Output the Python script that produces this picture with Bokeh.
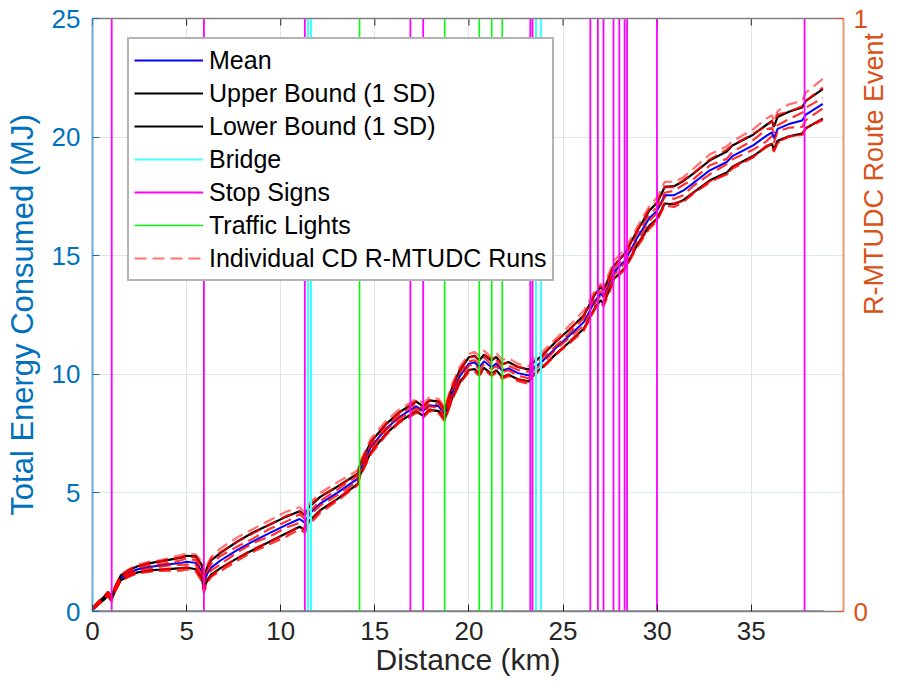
import math
from bokeh.plotting import figure
from bokeh.models import (Range1d, LinearAxis, FixedTicker, Legend, LegendItem)
from bokeh.embed import file_html
from bokeh.resources import INLINE

FONT = "Liberation Sans"
BLUE_AX = "#0072BD"
ORANGE_AX = "#D95319"
DARK = "#262626"

# ---------------- data ----------------
x_ticks = [0, 5, 10, 15, 20, 25, 30, 35]
y_ticks = [0, 5, 10, 15, 20, 25]
ev_ticks = [0, 1]

km = [0, 0.3, 0.6, 0.83, 1.0, 1.2, 1.5, 2.0, 2.4, 3.0,
      3.5, 4.2, 4.7, 5.0, 5.5, 5.8, 5.92, 6.1, 6.3, 6.8,
      7.7, 8.5, 9.4, 10.3, 11.0, 11.28, 11.5, 12.1, 13.0, 14.1,
      14.2, 14.8, 15.6, 16.3, 16.9, 17.2, 17.57, 17.9, 18.4, 18.71,
      19.1, 19.5, 20.0, 20.3, 20.55, 20.8, 21.2, 21.45, 21.77, 22.1,
      22.6, 23.2, 23.35, 23.9, 24.6, 25.3, 26.1, 26.7, 27.0, 27.15,
      27.7, 28.3, 28.9, 29.6, 30.0, 30.4, 30.9, 31.4, 31.9, 32.8,
      33.7, 34.0, 35.1, 35.8, 36.1, 36.2, 36.4, 37.0, 37.7, 37.9,
      38.8]

mean_mj = [0.10, 0.35, 0.55, 0.75, 0.55, 0.95, 1.42, 1.65, 1.78, 1.88,
           1.93, 2.00, 2.05, 2.10, 2.05, 1.70, 1.20, 1.60, 1.85, 2.15,
           2.60, 2.95, 3.30, 3.65, 3.90, 3.75, 4.10, 4.55, 5.00, 5.60,
           5.95, 6.95, 7.70, 8.20, 8.50, 8.65, 8.45, 8.70, 8.65, 8.30,
           9.20, 9.90, 10.45, 10.50, 10.30, 10.55, 10.30, 10.45, 10.15, 10.25,
           10.05, 9.95, 10.20, 10.55, 11.10, 11.60, 12.20, 13.10, 13.40, 13.25,
           14.30, 14.80, 15.70, 16.60, 16.90, 17.55, 17.55, 17.75, 18.05, 18.60,
           18.95, 19.20, 19.65, 20.05, 20.20, 19.95, 20.35, 20.55, 20.70, 20.95,
           21.40]

sd_mj = [0.03, 0.05, 0.06, 0.07, 0.08, 0.08, 0.10, 0.12, 0.13, 0.15,
         0.17, 0.20, 0.22, 0.25, 0.27, 0.28, 0.25, 0.28, 0.30, 0.32,
         0.35, 0.37, 0.36, 0.35, 0.33, 0.30, 0.30, 0.28, 0.26, 0.22,
         0.22, 0.22, 0.20, 0.20, 0.20, 0.20, 0.20, 0.20, 0.20, 0.20,
         0.22, 0.25, 0.27, 0.28, 0.28, 0.28, 0.28, 0.28, 0.27, 0.27,
         0.26, 0.25, 0.25, 0.25, 0.26, 0.27, 0.28, 0.28, 0.28, 0.28,
         0.28, 0.30, 0.30, 0.32, 0.33, 0.35, 0.38, 0.40, 0.40, 0.42,
         0.44, 0.45, 0.45, 0.46, 0.48, 0.48, 0.50, 0.52, 0.55, 0.58,
         0.62]

# individual runs: deviation from the mean, in units of one SD
run1_z = [1.2, 1.3, 1.4, 1.3, 1.4, 1.3, 1.3, 1.4, 1.5, 1.4,
          1.3, 1.4, 1.5, 1.4, 1.3, 1.4, 1.5, 1.4, 1.5, 1.6,
          1.5, 1.4, 1.5, 1.6, 1.5, 1.4, 1.5, 1.6, 1.7, 1.6,
          1.5, 1.6, 1.7, 1.6, 1.5, 1.6, 1.7, 1.6, 1.5, 1.6,
          1.7, 1.6, 1.5, 1.6, 1.7, 1.6, 1.5, 1.6, 1.7, 1.6,
          1.5, 1.6, 1.7, 1.6, 1.5, 1.6, 1.7, 1.6, 1.5, 1.6,
          1.7, 1.6, 1.5, 1.6, 1.7, 1.6, 1.5, 1.4, 1.5, 1.6,
          1.5, 1.4, 1.5, 1.6, 1.5, 1.4, 1.5, 1.6, 1.5, 1.6,
          1.7]
run2_z = [0.9, 1.0, 0.8, 1.1, 1.0, 0.9, 1.1, 1.0, 0.9, 1.2,
          1.0, 0.9, 1.1, 1.0, 0.8, 0.9, 1.1, 1.0, 1.2, 1.1,
          1.0, 0.9, 1.0, 1.1, 0.9, 1.0, 1.2, 1.1, 1.0, 0.9,
          1.1, 1.0, 1.1, 0.9, 1.0, 1.2, 1.0, 0.9, 1.1, 1.0,
          1.1, 1.2, 1.0, 0.9, 1.1, 1.0, 1.2, 1.1, 1.0, 0.9,
          1.0, 1.1, 1.2, 1.0, 1.1, 0.9, 1.0, 1.1, 1.2, 1.0,
          0.9, 1.1, 1.0, 1.2, 1.1, 1.0, 0.9, 1.1, 1.0, 1.1,
          1.2, 1.0, 1.1, 0.9, 1.0, 1.1, 1.2, 1.0, 1.1, 1.0,
          1.1]
run3_z = [0.4, 0.5, 0.3, 0.6, 0.4, 0.5, 0.3, 0.4, 0.6, 0.5,
          0.4, 0.3, 0.5, 0.6, 0.4, 0.5, 0.3, 0.4, 0.5, 0.6,
          0.4, 0.3, 0.5, 0.4, 0.6, 0.5, 0.3, 0.4, 0.5, 0.6,
          0.4, 0.5, 0.3, 0.4, 0.6, 0.5, 0.4, 0.3, 0.5, 0.4,
          0.6, 0.5, 0.4, 0.3, 0.5, 0.6, 0.4, 0.5, 0.3, 0.4,
          0.5, 0.6, 0.4, 0.5, 0.3, 0.4, 0.6, 0.5, 0.4, 0.3,
          0.5, 0.4, 0.6, 0.5, 0.4, 0.3, 0.5, 0.6, 0.4, 0.5,
          0.3, 0.4, 0.5, 0.6, 0.4, 0.5, 0.3, 0.4, 0.6, 0.5,
          0.4]
run4_z = [-0.3, -0.4, -0.2, -0.5, -0.3, -0.4, -0.2, -0.3, -0.5, -0.4,
          -0.3, -0.2, -0.4, -0.5, -0.3, -0.4, -0.2, -0.3, -0.4, -0.5,
          -0.3, -0.2, -0.4, -0.3, -0.5, -0.4, -0.2, -0.3, -0.4, -0.5,
          -0.3, -0.4, -0.2, -0.3, -0.5, -0.4, -0.3, -0.2, -0.4, -0.3,
          -0.5, -0.4, -0.3, -0.2, -0.4, -0.5, -0.3, -0.4, -0.2, -0.3,
          -0.4, -0.5, -0.3, -0.4, -0.2, -0.3, -0.5, -0.4, -0.3, -0.2,
          -0.4, -0.3, -0.5, -0.4, -0.3, -0.2, -0.4, -0.5, -0.3, -0.4,
          -0.2, -0.3, -0.4, -0.5, -0.3, -0.4, -0.2, -0.3, -0.5, -0.4,
          -0.3]
run5_z = [-0.9, -1.0, -0.8, -1.1, -1.0, -0.9, -1.1, -1.0, -0.9, -1.2,
          -1.0, -0.9, -1.1, -1.0, -0.8, -0.9, -1.1, -1.0, -1.2, -1.1,
          -1.0, -0.9, -1.0, -1.1, -0.9, -1.0, -1.2, -1.1, -1.0, -0.9,
          -1.1, -1.0, -1.1, -0.9, -1.0, -1.2, -1.0, -0.9, -1.1, -1.0,
          -1.1, -1.2, -1.0, -0.9, -1.1, -1.0, -1.2, -1.1, -1.0, -0.9,
          -1.0, -1.1, -1.2, -1.0, -1.1, -0.9, -1.0, -1.1, -1.2, -1.0,
          -0.9, -1.1, -1.0, -1.2, -1.1, -1.0, -0.9, -1.1, -1.0, -1.1,
          -1.2, -1.0, -1.1, -0.9, -1.0, -1.1, -1.2, -1.0, -1.1, -1.0,
          -1.1]
run6_z = [-1.2, -1.3, -1.4, -1.3, -1.5, -1.3, -1.2, -1.4, -1.3, -1.4,
          -1.3, -1.4, -1.5, -1.3, -1.4, -1.5, -1.6, -1.4, -1.3, -1.4,
          -1.3, -1.2, -1.3, -1.4, -1.3, -1.4, -1.5, -1.4, -1.3, -1.2,
          -1.3, -1.4, -1.3, -1.2, -1.4, -1.3, -1.4, -1.3, -1.5, -1.4,
          -1.3, -1.2, -1.3, -1.4, -1.3, -1.2, -1.3, -1.4, -1.3, -1.2,
          -1.3, -1.4, -1.3, -1.2, -1.1, -1.2, -1.3, -1.2, -1.3, -1.4,
          -1.3, -1.2, -1.3, -1.4, -1.3, -1.2, -1.3, -1.2, -1.1, -1.2,
          -1.1, -1.2, -1.1, -1.0, -1.1, -1.2, -1.1, -1.0, -1.1, -1.0,
          -1.0]
runs_z = [run1_z, run2_z, run3_z, run4_z, run5_z, run6_z]

# route events (km)
bridge_km = [11.44, 11.61, 23.56, 23.82]
stop_km = [1.02, 5.92, 11.28, 16.89, 17.57, 23.26, 23.38, 26.45, 26.85,
           27.15, 27.68, 27.99, 28.27, 28.40, 29.99, 37.83]
traffic_km = [14.19, 18.71, 20.55, 21.21, 21.77]
route_end_km = 38.85
x_max = 39.9
y_max = 25

# ---------------- figure ----------------
p = figure(width=906, height=684, x_range=Range1d(0, x_max), y_range=Range1d(0, y_max),
           output_backend="svg", toolbar_location=None,
           min_border_left=92, min_border_right=57, min_border_top=18,
           min_border_bottom=73)
p.extra_y_ranges = {"ev": Range1d(0, 1)}
p.outline_line_color = None
p.background_fill_color = "white"
p.border_fill_color = "white"

xa = p.xaxis[0]
xa.ticker = FixedTicker(ticks=x_ticks)
xa.axis_line_color = "#808080"
xa.axis_line_width = 1.5
xa.major_tick_in = 7
xa.major_tick_out = 0
xa.major_tick_line_color = DARK
xa.minor_tick_line_color = None
xa.major_label_text_font = FONT
xa.major_label_text_font_size = "26px"
xa.major_label_text_color = DARK
xa.major_label_standoff = 10
xa.axis_label = "Distance (km)"
xa.axis_label_text_font = FONT
xa.axis_label_text_font_size = "30px"
xa.axis_label_text_font_style = "normal"
xa.axis_label_text_color = DARK
xa.axis_label_standoff = 0

ya = p.yaxis[0]
ya.ticker = FixedTicker(ticks=y_ticks)
ya.axis_line_color = BLUE_AX
ya.axis_line_alpha = 0.6
ya.axis_line_width = 2
ya.major_tick_in = 7
ya.major_tick_out = 0
ya.major_tick_line_color = BLUE_AX
ya.minor_tick_line_color = None
ya.major_label_text_font = FONT
ya.major_label_text_font_size = "26px"
ya.major_label_text_color = BLUE_AX
ya.major_label_standoff = 12
ya.axis_label = "Total Energy Consumed (MJ)"
ya.axis_label_text_font = FONT
ya.axis_label_text_font_size = "31px"
ya.axis_label_text_font_style = "normal"
ya.axis_label_text_color = BLUE_AX
ya.axis_label_standoff = 9

ra = LinearAxis(y_range_name="ev", ticker=FixedTicker(ticks=ev_ticks))
ra.axis_line_color = ORANGE_AX
ra.axis_line_alpha = 0.6
ra.axis_line_width = 2
ra.major_tick_in = 7
ra.major_tick_out = 0
ra.major_tick_line_color = ORANGE_AX
ra.minor_tick_line_color = None
ra.major_label_text_font = FONT
ra.major_label_text_font_size = "26px"
ra.major_label_text_color = ORANGE_AX
ra.major_label_standoff = 10
ra.axis_label = "R-MTUDC Route Event"
ra.axis_label_text_font = FONT
ra.axis_label_text_font_size = "27px"
ra.axis_label_text_font_style = "normal"
ra.axis_label_text_color = ORANGE_AX
ra.axis_label_standoff = 3
if "axis_label_orientation" in LinearAxis.properties():
    ra.axis_label_orientation = math.pi / 2
p.add_layout(ra, "right")

# top box edge (no labels)
ta = LinearAxis(ticker=FixedTicker(ticks=[]))
ta.axis_line_color = "#808080"
ta.axis_line_width = 1.5
ta.major_tick_line_color = None
ta.minor_tick_line_color = None
p.add_layout(ta, "above")

p.xgrid.ticker = FixedTicker(ticks=x_ticks)
p.xgrid.grid_line_color = "#e3e3e3"
p.xgrid.grid_line_width = 1
p.ygrid.ticker = FixedTicker(ticks=y_ticks)
p.ygrid.grid_line_color = "#dde8f2"
p.ygrid.grid_line_width = 1

# inward tick marks on the top edge
p.segment(x0=x_ticks, y0=[y_max] * len(x_ticks), x1=x_ticks,
          y1=[y_max - 0.3] * len(x_ticks), line_color=DARK, line_width=1)

upper_mj = [m + s for m, s in zip(mean_mj, sd_mj)]
lower_mj = [m - s for m, s in zip(mean_mj, sd_mj)]

r_mean = p.line(km, mean_mj, line_color="#0000FF", line_width=2)
r_up = p.line(km, upper_mj, line_color="#000000", line_width=2.2)
r_lo = p.line(km, lower_mj, line_color="#000000", line_width=2.2)

run_renderers = []
for i, z in enumerate(runs_z):
    vals = [m + zz * s for m, zz, s in zip(mean_mj, z, sd_mj)]
    run_renderers.append(p.line(km, vals, line_color="#FF0000",
                                line_alpha=0.55 if i == 0 else 0.8,
                                line_width=2.2, line_dash="12 6"))


def event_path(events):
    xs, ys = [0.0], [0.0]
    for e in events:
        xs += [e, e, e]
        ys += [0, 1, 0]
    xs.append(route_end_km)
    ys.append(0)
    return xs, ys


bx, by = event_path(bridge_km)
r_bridge = p.line(bx, by, y_range_name="ev", line_color="#40FFFF", line_width=2.2)
sx, sy = event_path(stop_km)
r_stop = p.line(sx, sy, y_range_name="ev", line_color="#FF00FF", line_width=1.8)
tx, ty = event_path(traffic_km)
r_traffic = p.line(tx, ty, y_range_name="ev", line_color="#00FF00", line_width=1.6)

legend = Legend(items=[
    LegendItem(label="Mean", renderers=[r_mean]),
    LegendItem(label="Upper Bound (1 SD)", renderers=[r_up]),
    LegendItem(label="Lower Bound (1 SD)", renderers=[r_lo]),
    LegendItem(label="Bridge", renderers=[r_bridge]),
    LegendItem(label="Stop Signs", renderers=[r_stop]),
    LegendItem(label="Traffic Lights", renderers=[r_traffic]),
    LegendItem(label="Individual CD R-MTUDC Runs", renderers=[run_renderers[0]]),
], location=(35, 330))
legend.label_text_font = FONT
legend.label_text_font_size = "25px"
legend.label_text_color = "#000000"
legend.glyph_width = 69
legend.glyph_height = 32
legend.label_height = 32
legend.spacing = 1
legend.padding = 5
legend.margin = 0
legend.label_standoff = 6
legend.border_line_color = "#6a6a6a"
legend.border_line_width = 2
legend.background_fill_color = "white"
legend.background_fill_alpha = 1
p.add_layout(legend)

open("out.html", "w").write(file_html(p, INLINE))
